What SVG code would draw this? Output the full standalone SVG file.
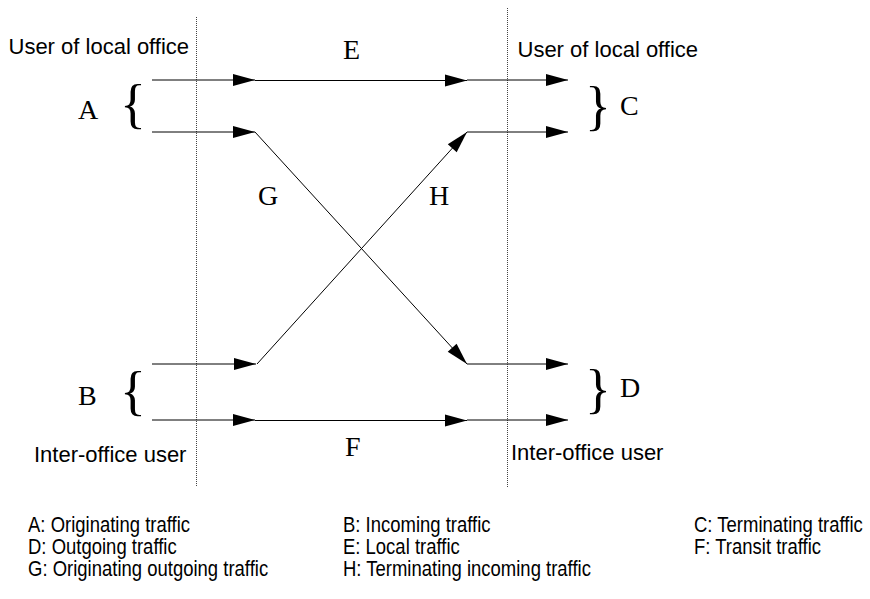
<svg xmlns="http://www.w3.org/2000/svg" width="870" height="599" viewBox="0 0 870 599">
  <defs>
    <marker id="ah" markerUnits="userSpaceOnUse" markerWidth="22" markerHeight="12" refX="22" refY="6" orient="auto" overflow="visible">
      <path d="M0,0 L22,6 L0,12 z" fill="#000"/>
    </marker>
  </defs>
  <style>
    .bound { stroke: #444; stroke-width: 1; stroke-dasharray: 1 1; fill: none; }
    .seg { stroke: #000; stroke-width: 1; fill: none; marker-end: url(#ah); }
    .big { font-family: "Liberation Serif", "Times New Roman", serif; font-size: 28px; fill: #000; }
    .brace { font-family: "Liberation Serif", "Times New Roman", serif; font-size: 54px; fill: #000; }
    .cap { font-family: "Liberation Sans", Arial, sans-serif; font-size: 22px; fill: #000; }
    .legend { font-family: "Liberation Sans", Arial, sans-serif; font-size: 21.5px; fill: #000; }
  </style>
  <rect width="870" height="599" fill="#fff"/>

  <!-- office boundaries -->
  <g id="boundaries">
    <line class="bound" x1="196.5" y1="17" x2="196.5" y2="487"/>
    <line class="bound" x1="507.5" y1="8" x2="507.5" y2="488"/>
  </g>

  <!-- side captions -->
  <g id="captions">
    <text class="cap" x="8.5" y="54">User of local office</text>
    <text class="cap" x="517.5" y="57">User of local office</text>
    <text class="cap" x="34" y="462">Inter-office user</text>
    <text class="cap" x="511" y="460">Inter-office user</text>
  </g>

  <!-- traffic groups -->
  <g id="node-A">
    <text class="big" x="78" y="119">A</text>
    <text class="brace" x="120" y="121.5">{</text>
  </g>
  <g id="node-B">
    <text class="big" x="78" y="405">B</text>
    <text class="brace" x="120" y="408.5">{</text>
  </g>
  <g id="node-C">
    <text class="brace" x="585" y="123.5">}</text>
    <text class="big" x="620" y="115">C</text>
  </g>
  <g id="node-D">
    <text class="brace" x="585" y="406.5">}</text>
    <text class="big" x="620" y="397">D</text>
  </g>
  <g id="label-E"><text class="big" x="343" y="59">E</text></g>
  <g id="label-F"><text class="big" x="345" y="456">F</text></g>
  <g id="label-G"><text class="big" x="258" y="205">G</text></g>
  <g id="label-H"><text class="big" x="429" y="205">H</text></g>

  <!-- traffic flows -->
  <g id="connectors">
    <line class="seg" x1="152" y1="80" x2="255" y2="80"/>
    <line class="seg" x1="255" y1="80.5" x2="467" y2="80.5"/>
    <line class="seg" x1="467" y1="80" x2="568" y2="80"/>

    <line class="seg" x1="152" y1="132" x2="255" y2="132"/>
    <line class="seg" x1="255" y1="132" x2="467" y2="364"/>
    <line class="seg" x1="467" y1="132" x2="568" y2="132"/>

    <line class="seg" x1="152" y1="364" x2="256" y2="364"/>
    <line class="seg" x1="257" y1="364" x2="467" y2="132"/>
    <line class="seg" x1="467" y1="364" x2="568" y2="364"/>

    <line class="seg" x1="152" y1="420" x2="255" y2="420"/>
    <line class="seg" x1="255" y1="420.5" x2="467" y2="420.5"/>
    <line class="seg" x1="467" y1="420" x2="568" y2="420"/>
  </g>

  <!-- key, set in a condensed face -->
  <g id="legend" transform="scale(0.86,1)">
    <text class="legend" x="32.6" y="532">A: Originating traffic</text>
    <text class="legend" x="398.8" y="532">B: Incoming traffic</text>
    <text class="legend" x="807" y="532">C: Terminating traffic</text>
    <text class="legend" x="32.6" y="554">D: Outgoing traffic</text>
    <text class="legend" x="398.8" y="554">E: Local traffic</text>
    <text class="legend" x="807" y="554">F: Transit traffic</text>
    <text class="legend" x="32.6" y="576">G: Originating outgoing traffic</text>
    <text class="legend" x="398.8" y="576">H: Terminating incoming traffic</text>
  </g>
</svg>
